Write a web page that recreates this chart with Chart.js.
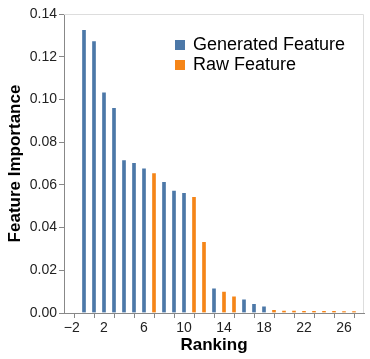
<!DOCTYPE html>
<html>
<head>
<meta charset="utf-8">
<script src="https://cdn.jsdelivr.net/npm/chart.js@4/dist/chart.umd.min.js"></script>
<style>
  body { margin: 0; background: #fff; }
  #wrap { position: relative; width: 370px; height: 359px; }
  #legend { position: absolute; left: 175px; top: 34px; font-family: "Liberation Sans", Arial, sans-serif; font-size: 18px; color: #000; }
  #legend div { height: 20px; line-height: 20px; white-space: nowrap; }
  #legend span.sw { display: inline-block; width: 10px; height: 10px; margin-right: 8px; vertical-align: 0px; }
</style>
</head>
<body>
<div id="wrap">
  <canvas id="chart" width="370" height="359"></canvas>
  <div id="legend"></div>
</div>
<script>
// ranking positions and importance of each feature
var ranks = [0, 1, 2, 3, 4, 5, 6, 7, 8, 9, 10, 11, 12, 13, 14, 15, 16, 17, 18, 19, 20, 21, 22, 23, 24, 25, 26, 27];
var importance = [0.1328, 0.1275, 0.1035, 0.0963, 0.0718, 0.0705, 0.0680, 0.0658, 0.0617, 0.0576,
                  0.0565, 0.0546, 0.0336, 0.0118, 0.0103, 0.0080, 0.0066, 0.0045, 0.0034, 0.0017,
                  0.0014, 0.0014, 0.0013, 0.0013, 0.0013, 0.0012, 0.0011, 0.0011];
// G = generated, R = raw
var kind = ["G", "G", "G", "G", "G", "G", "G", "R", "G", "G", "G", "R", "R", "G", "R", "R", "G", "G", "G", "R",
            "R", "R", "R", "R", "R", "R", "R", "R"];
var seriesNames = ["Generated Feature", "Raw Feature"];
var seriesKeys = ["G", "R"];
var colors = ["#4c78a8", "#f58518"];

var font = '"Liberation Sans", Arial, sans-serif';

function pointsFor(key) {
  var out = [];
  for (var i = 0; i < ranks.length; i++) {
    if (kind[i] === key) out.push({x: ranks[i], y: importance[i]});
  }
  return out;
}

var datasets = seriesKeys.map(function (k, i) {
  return {
    label: seriesNames[i],
    data: pointsFor(k),
    backgroundColor: colors[i],
    borderColor: "rgba(255,255,255,0.45)",
    borderWidth: 1,
    barThickness: 5,
    grouped: false
  };
});

// light frame on top and right of the plot
var framePlugin = {
  id: "frame",
  beforeDatasetsDraw: function (chart) {
    var a = chart.chartArea, c = chart.ctx;
    c.save();
    c.strokeStyle = "#ddd";
    c.lineWidth = 1;
    c.beginPath();
    c.moveTo(a.left, a.top + 0.5);
    c.lineTo(a.right - 0.5, a.top + 0.5);
    c.lineTo(a.right - 0.5, a.bottom);
    c.stroke();
    c.restore();
  }
};

new Chart(document.getElementById("chart"), {
  type: "bar",
  data: { datasets: datasets },
  plugins: [framePlugin],
  options: {
    responsive: false,
    animation: false,
    layout: { padding: { top: 14, right: 6, left: 0, bottom: 0 } },
    plugins: { legend: { display: false }, tooltip: { enabled: false } },
    scales: {
      x: {
        type: "linear",
        min: -2,
        max: 28,
        offset: false,
        afterFit: function (s) { s.height = 46; },
        grid: { display: true, drawOnChartArea: false, color: "#888", tickLength: 5 },
        border: { color: "#888" },
        ticks: {
          stepSize: 2,
          autoSkip: false,
          maxRotation: 0,
          padding: 2,
          color: "#222",
          font: { family: font, size: 14 },
          callback: function (v) {
            if ((v + 2) % 4 !== 0) return "";
            if (v < 0) return "    \u2212" + Math.abs(v);
            return String(v);
          }
        },
        title: { display: true, text: "Ranking", color: "#000", font: { family: font, size: 17, weight: "bold" }, padding: { top: 0, bottom: 3 } }
      },
      y: {
        min: 0,
        max: 0.14,
        afterFit: function (s) { s.width = 64; },
        grid: { display: true, drawOnChartArea: false, color: "#888", tickLength: 5 },
        border: { color: "#888" },
        ticks: {
          stepSize: 0.02,
          padding: 2,
          color: "#222",
          font: { family: font, size: 14 },
          callback: function (v) { return v.toFixed(2); }
        },
        title: { display: true, text: "Feature Importance", color: "#000", font: { family: font, size: 17, weight: "bold" }, padding: { top: 5, bottom: 0 } }
      }
    }
  }
});

var legend = document.getElementById("legend");
seriesNames.forEach(function (n, i) {
  var row = document.createElement("div");
  var sw = document.createElement("span");
  sw.className = "sw";
  sw.style.background = colors[i];
  row.appendChild(sw);
  row.appendChild(document.createTextNode(n));
  legend.appendChild(row);
});
</script>
</body>
</html>
